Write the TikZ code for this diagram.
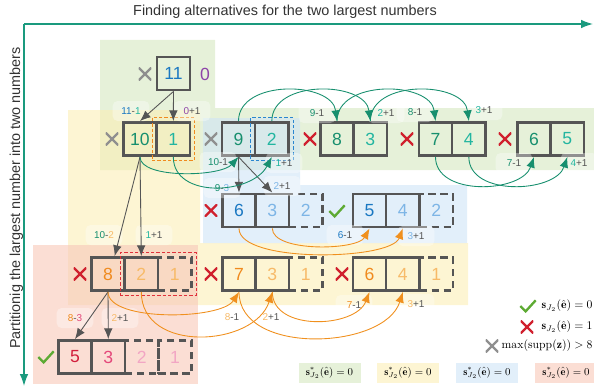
\documentclass[tikz,border=0pt]{standalone}
\usepackage{xcolor}
\usepackage{tikz}
\usepackage{amsmath}
\usepackage{fontspec}
\newfontfamily\diagfont{Liberation Sans}
\usetikzlibrary{arrows.meta, fit, positioning}

\definecolor{axisteal}{HTML}{1A9A7E}
\definecolor{tealdark}{HTML}{178F6E}
\definecolor{teallight}{HTML}{22B5A0}
\definecolor{numblue}{HTML}{1A78C2}
\definecolor{lightblue}{HTML}{7DB5E6}
\definecolor{numorange}{HTML}{F08A1E}
\definecolor{lightorange}{HTML}{F7BA68}
\definecolor{numred}{HTML}{D21F3C}
\definecolor{numpink}{HTML}{E4487A}
\definecolor{lightpink}{HTML}{F2A6C4}
\definecolor{numpurple}{HTML}{8E44A8}
\definecolor{boxgray}{HTML}{555555}
\definecolor{titlegray}{HTML}{333333}
\definecolor{crossred}{HTML}{D0202E}
\definecolor{crossgray}{HTML}{8F8F8F}
\definecolor{checkgreen}{HTML}{5DAA33}
\definecolor{arroworange}{HTML}{F0901E}
\definecolor{bggreen}{HTML}{D5E8C0}
\definecolor{bgyellow}{HTML}{FBEEB5}
\definecolor{bgblue}{HTML}{CFE4F6}
\definecolor{bgpink}{HTML}{F8C8B8}
\definecolor{dashblue}{HTML}{2A86D0}
\definecolor{dashred}{HTML}{E0303A}

\begin{document}
\begin{tikzpicture}[x=0.3mm, y=-0.3mm, font=\diagfont]
        % Define styles
        \tikzset{
            cell/.style={rectangle, draw=boxgray, line width=2.2pt, minimum size=10mm, inner sep=0pt, font=\diagfont\fontsize{15}{18}\selectfont},
            ghost/.style={cell, dash pattern=on 2.2mm off 1.4mm},
            region/.style={fill opacity=0.6},
            srcbox/.style={draw, dash pattern=on 1mm off 0.6mm, line width=0.7pt, inner sep=1mm},
            steplabel/.style={rounded corners=1.5mm, fill=white, fill opacity=0.35, text opacity=1, minimum width=11mm, minimum height=6mm, inner sep=1pt, text=boxgray, font=\diagfont\fontsize{8.5}{10}\selectfont},
            arrow/.style={-{Latex[length=3.2mm,width=2.6mm]}, line width=0.75pt, draw=boxgray},
            tealarrow/.style={arrow, draw=tealdark},
            orangearrow/.style={arrow, draw=arroworange},
            axis/.style={-{Latex[length=3.6mm,width=2.6mm]}, line width=1.2pt, draw=axisteal},
            badmark/.style={minimum size=3.8mm, inner sep=0pt, path picture={
                \draw[#1, line width=2pt] (path picture bounding box.south west) -- (path picture bounding box.north east)
                    (path picture bounding box.north west) -- (path picture bounding box.south east);}},
            badmark/.default=crossred,
            okmark/.style={minimum width=5.4mm, minimum height=4.2mm, inner sep=0pt, path picture={
                \draw[checkgreen, line width=2pt] ([xshift=0.4mm, yshift=2.1mm]path picture bounding box.south west)
                    -- ([xshift=2mm, yshift=0.5mm]path picture bounding box.south west)
                    -- ([xshift=-0.4mm, yshift=-0.4mm]path picture bounding box.north east);}},
            legbox/.style={minimum width=18.6mm, minimum height=6mm, inner sep=0pt, fill opacity=0.6, text opacity=1, font=\small}
        }
        \useasboundingbox (0,0) rectangle (594,390);

        % Background regions
        \fill[bggreen, region] (100,40) -- (215,40) -- (215,108) -- (594,108) -- (594,170) -- (100,170) -- cycle;
        \fill[bgyellow, region] (68,110) -- (200,110) -- (200,243) -- (468,243) -- (468,305) -- (68,305) -- cycle;
        \fill[bgblue, region] (203,118) -- (300,118) -- (300,185) -- (467,185) -- (467,243) -- (203,243) -- cycle;
        \fill[bgpink, region] (33,245) rectangle (198,384);

        % Axes
        \coordinate (axis_o) at (24,24);
        \coordinate (axis_x) at (593,24);
        \coordinate (axis_y) at (24,386);
        \draw[axis] (axis_o) -- (axis_x);
        \draw[axis] (axis_o) -- (axis_y);
        \node[anchor=base, text=titlegray, font=\diagfont\fontsize{12.3}{14}\selectfont] (title) at (285,16) {Finding alternatives for the two largest numbers};
        \node[anchor=base, rotate=90, text=titlegray, font=\diagfont\fontsize{12.3}{14}\selectfont] (side_title) at (20,198) {Partitionig the largest number into two numbers};

        % Start
        \node[cell, text=numblue] (top_11) at (173.5,73.5) {11};
        \node[badmark=crossgray] (skip_11) at (145,74) {};
        \node[text=numpurple, font=\diagfont\fontsize{15}{18}\selectfont] (top_0) at (205,74) {0};

        % Row 1
        \node[cell, text=tealdark] (r1_10) at (140,139) {10};
        \node[cell, text=teallight] (r1_1) at (173.33,139) {1};
        \node[cell, text=tealdark] (r1_9) at (238.5,139) {9};
        \node[cell, text=teallight] (r1_2) at (271.83,139) {2};
        \node[cell, text=tealdark] (r1_8) at (337,139) {8};
        \node[cell, text=teallight] (r1_3) at (370.33,139) {3};
        \node[cell, text=tealdark] (r1_7) at (435.5,139) {7};
        \node[cell, text=teallight] (r1_4) at (468.83,139) {4};
        \node[cell, text=tealdark] (r1_6) at (534,139) {6};
        \node[cell, text=teallight] (r1_5) at (567.33,139) {5};
        \node[badmark=crossgray] (skip_10) at (112,139) {};
        \node[badmark=crossgray] (skip_9) at (211,139) {};
        \node[badmark] (bad_8) at (310,139) {};
        \node[badmark] (bad_7) at (407,139) {};
        \node[badmark] (bad_6) at (505,139) {};

        % Row 2
        \node[cell, text=numblue] (r2_6) at (239,210.5) {6};
        \node[cell, text=lightblue] (r2_3) at (272.33,210.5) {3};
        \node[ghost, text=lightblue] (r2_2) at (305.67,210.5) {2};
        \node[cell, text=numblue] (r2_5) at (369.5,210.5) {5};
        \node[cell, text=lightblue] (r2_4) at (402.83,210.5) {4};
        \node[ghost, text=lightblue] (r2_2b) at (436.17,210.5) {2};
        \node[badmark] (bad_r2) at (211,210.5) {};
        \node[okmark] (ok_r2) at (337,211) {};

        % Row 3
        \node[cell, text=numorange] (r3_8) at (108,274) {8};
        \node[cell, text=lightorange] (r3_2) at (141.33,274) {2};
        \node[ghost, text=lightorange] (r3_1) at (174.67,274) {1};
        \node[cell, text=numorange] (r3_7) at (239,274) {7};
        \node[cell, text=lightorange] (r3_3) at (272.33,274) {3};
        \node[ghost, text=lightorange] (r3_1b) at (305.67,274) {1};
        \node[cell, text=numorange] (r3_6) at (369.5,274) {6};
        \node[cell, text=lightorange] (r3_4) at (402.83,274) {4};
        \node[ghost, text=lightorange] (r3_1c) at (436.17,274) {1};
        \node[badmark] (bad_r3a) at (80,274) {};
        \node[badmark] (bad_r3b) at (211,274) {};
        \node[badmark] (bad_r3c) at (342,274) {};

        % Row 4
        \node[cell, text=numred] (r4_5) at (75,357) {5};
        \node[cell, text=numpink] (r4_3) at (108.33,357) {3};
        \node[ghost, text=lightpink] (r4_2) at (141.67,357) {2};
        \node[ghost, text=lightpink] (r4_1) at (175,357) {1};
        \node[okmark] (ok_r4) at (46,357) {};

        % Origin of the moved units
        \node[srcbox, draw=numorange, fit=(r1_1)] (src_1) {};
        \node[srcbox, draw=dashblue, fit=(r1_2)] (src_2) {};
        \node[srcbox, draw=dashred, fit=(r3_2)(r3_1)] (src_21) {};

        % Labels
        \node[steplabel] (lab_11_1) at (131,111) {\textcolor{numblue}{11}-\textcolor{teallight}{1}};
        \node[steplabel] (lab_0_1) at (192,111) {\textcolor{numpurple}{0}+1};
        \node[steplabel] (lab_10_1) at (218,162) {\textcolor{tealdark}{10}-1};
        \node[steplabel] (lab_1_1) at (284,163) {\textcolor{teallight}{1}+1};
        \node[steplabel] (lab_9_1) at (317,113) {\textcolor{tealdark}{9}-1};
        \node[steplabel] (lab_2_1) at (386,113) {\textcolor{teallight}{2}+1};
        \node[steplabel] (lab_8_1) at (415,112) {\textcolor{tealdark}{8}-1};
        \node[steplabel] (lab_3_1) at (484,110) {\textcolor{teallight}{3}+1};
        \node[steplabel] (lab_7_1) at (514,163) {\textcolor{tealdark}{7}-1};
        \node[steplabel] (lab_4_1) at (579,163) {\textcolor{teallight}{4}+1};
        \node[steplabel] (lab_9_3) at (222,188) {\textcolor{tealdark}{9}-\textcolor{lightblue}{3}};
        \node[steplabel] (lab_2_1b) at (282,186) {\textcolor{lightblue}{2}+1};
        \node[steplabel] (lab_6_1) at (345,235) {\textcolor{numblue}{6}-1};
        \node[steplabel] (lab_3_1b) at (416,236) {\textcolor{lightblue}{3}+1};
        \node[steplabel] (lab_10_2) at (104,235) {\textcolor{tealdark}{10}-\textcolor{lightorange}{2}};
        \node[steplabel] (lab_1_1b) at (154,235) {\textcolor{teallight}{1}+1};
        \node[steplabel] (lab_8_1b) at (232,317) {\textcolor{lightorange}{8}-1};
        \node[steplabel] (lab_2_1c) at (271,317) {\textcolor{lightorange}{2}+1};
        \node[steplabel] (lab_7_1b) at (354,305) {\textcolor{numorange}{7}-1};
        \node[steplabel] (lab_3_1c) at (416,304) {\textcolor{lightorange}{3}+1};
        \node[steplabel] (lab_8_3) at (75,318) {\textcolor{numorange}{8}-\textcolor{numpink}{3}};
        \node[steplabel] (lab_2_1d) at (120,318) {\textcolor{lightorange}{2}+1};

        % Arrows
        \draw[arrow] (top_11.south) -- (r1_10.north);
        \draw[arrow] (top_11.south) -- (r1_1.north);
        \draw[arrow] (r1_9.south) -- (r2_6.north);
        \draw[arrow] (r1_9.south) -- (r2_3.north);
        \draw[arrow] (r1_10.south) -- ([xshift=2mm]r3_8.north);
        \draw[arrow] (r1_10.south) -- (r3_2.north);
        \draw[arrow] (r3_8.south) -- (r4_5.north);
        \draw[arrow] (r3_8.south) -- (r4_3.north);

        \draw[tealarrow] (r1_10.south) .. controls +(0,22) and +(-18,20) .. (r1_9.south);
        \draw[tealarrow] (r1_1.south) .. controls +(0,42) and +(-20,38) .. (r1_2.south);
        \draw[tealarrow] (r1_9.north) .. controls +(0,-42) and +(-5,-40) .. (r1_8.north);
        \draw[tealarrow] (r1_2.north) .. controls +(0,-42) and +(-5,-40) .. (r1_3.north);
        \draw[tealarrow] (r1_8.north) .. controls +(0,-42) and +(-5,-40) .. (r1_7.north);
        \draw[tealarrow] (r1_3.north) .. controls +(0,-42) and +(-5,-40) .. (r1_4.north);
        \draw[tealarrow] (r1_7.south) .. controls +(0,40) and +(-12,36) .. (r1_6.south);
        \draw[tealarrow] (r1_4.south) .. controls +(0,40) and +(-12,36) .. (r1_5.south);

        \draw[orangearrow] (r2_6.south) .. controls +(0,35) and +(-12,32) .. (r2_4.south);
        \draw[orangearrow] (r2_3.south) .. controls +(0,24) and +(-12,22) .. (r2_5.south);
        \draw[orangearrow] (r3_8.south) .. controls +(0,30) and +(-18,28) .. (r3_7.south);
        \draw[orangearrow] (r3_2.south) .. controls +(0,62) and +(-18,55) .. (r3_3.south);
        \draw[orangearrow] (r3_7.south) .. controls +(0,64) and +(-18,58) .. (r3_4.south);
        \draw[orangearrow] (r3_3.south) .. controls +(0,40) and +(-14,36) .. (r3_6.south);

        % Legend
        \node[okmark] (leg_ok) at (528,306) {};
        \node[anchor=east, inner sep=1pt] (leg_ok_txt) at (594,306) {$\mathbf{s}_{J_2}(\hat{\mathbf{e}}) = 0$};
        \node[badmark] (leg_bad) at (527,327) {};
        \node[anchor=east, inner sep=1pt] (leg_bad_txt) at (594,327) {$\mathbf{s}_{J_2}(\hat{\mathbf{e}}) = 1$};
        \node[badmark=crossgray] (leg_skip) at (492,346) {};
        \node[anchor=east, inner sep=1pt] (leg_skip_txt) at (594,346) {$\max(\operatorname{supp}(\mathbf{z})) > 8$};

        \node[legbox, fill=bggreen] (key_green) at (329.5,373) {$\mathbf{s}^{*}_{J_2}(\hat{\mathbf{e}}) = 0$};
        \node[legbox, fill=bgyellow] (key_yellow) at (408,373) {$\mathbf{s}^{*}_{J_2}(\hat{\mathbf{e}}) = 0$};
        \node[legbox, fill=bgblue] (key_blue) at (487,373) {$\mathbf{s}^{*}_{J_2}(\hat{\mathbf{e}}) = 0$};
        \node[legbox, fill=bgpink] (key_pink) at (566,373) {$\mathbf{s}^{*}_{J_2}(\hat{\mathbf{e}}) = 0$};
    \end{tikzpicture}
\end{document}
